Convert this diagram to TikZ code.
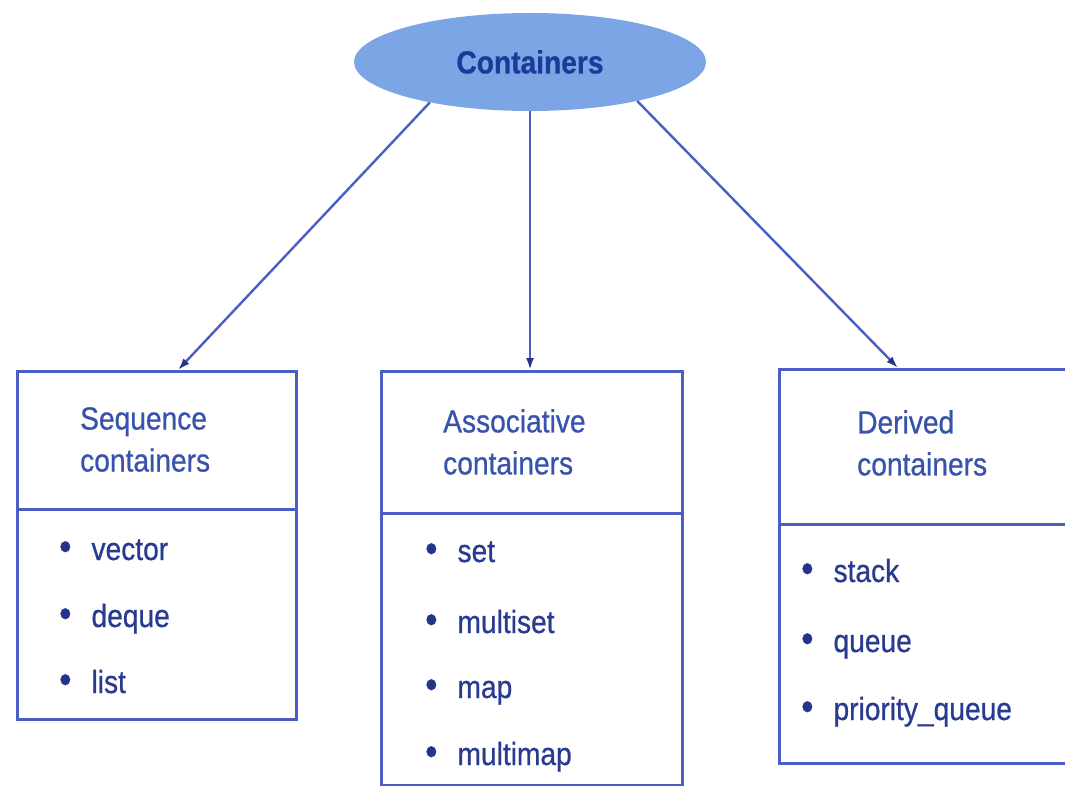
\documentclass[tikz,border=0pt]{standalone}
\usepackage{fontspec}
\setmainfont{Liberation Sans}[FakeStretch=0.88,FakeBold=0.7]
\usetikzlibrary{shapes.geometric,arrows.meta}
\definecolor{boxline}{HTML}{4A5EC6}
\definecolor{headtxt}{HTML}{3853AC}
\definecolor{itemtxt}{HTML}{293B90}
\definecolor{elfill}{HTML}{7CA5E6}
\definecolor{contxt}{HTML}{1C3A9A}
\definecolor{tipcol}{HTML}{26338A}
\newcommand{\itm}[1]{{\fontsize{40pt}{40pt}\selectfont\color{tipcol}\textbullet}\hspace{20pt}#1}
\tikzset{
  boxpart/.style={draw=boxline, line width=2.8pt, rectangle, anchor=north west, inner sep=0pt},
  headtext/.style={anchor=north west, inner sep=0pt, align=left, text=headtxt, font=\fontsize{32pt}{42pt}\selectfont},
  itemtext/.style={anchor=base west, inner sep=0pt, text=itemtxt, font=\fontsize{32pt}{38pt}\selectfont},
  arr/.style={draw=boxline, line width=2.4pt, -{Latex[length=12pt,width=8pt,color=tipcol]}},
}
\begin{document}
\begin{tikzpicture}[x=1pt,y=-1pt]
\useasboundingbox (0,0) rectangle (1065,786);
% root
\node[ellipse, fill=elfill, minimum width=352pt, minimum height=98pt, inner sep=0pt,
      text=contxt, font=\fontsize{32pt}{38pt}\selectfont\bfseries] (cont) at (530,62) {Containers};
% left box
\node[boxpart, minimum width=279pt, minimum height=138pt] (seqh) at (16,370) {};
\node[boxpart, minimum width=279pt, minimum height=210pt] (seqb) at (16,508) {};
\node[headtext] (seqt) at (80,407) {Sequence\\containers};
\node[itemtext] (s1) at (59,560) {\itm{vector}};
\node[itemtext] (s2) at (59,627) {\itm{deque}};
\node[itemtext] (s3) at (59,693) {\itm{list}};
% middle box
\node[boxpart, minimum width=301pt, minimum height=142pt] (assh) at (380,370) {};
\node[boxpart, minimum width=301pt, minimum height=272pt] (assb) at (380,512) {};
\node[headtext] (asst) at (443,409) {Associative\\containers};
\node[itemtext] (a1) at (425,562) {\itm{set}};
\node[itemtext] (a2) at (425,633) {\itm{multiset}};
\node[itemtext] (a3) at (425,698) {\itm{map}};
\node[itemtext] (a4) at (425,765) {\itm{multimap}};
% right box
\node[boxpart, minimum width=300pt, minimum height=155pt] (derh) at (778,368) {};
\node[boxpart, minimum width=300pt, minimum height=239pt] (derb) at (778,523) {};
\node[headtext] (dert) at (857,410) {Derived\\containers};
\node[itemtext] (d1) at (801,582) {\itm{stack}};
\node[itemtext] (d2) at (801,652) {\itm{queue}};
\node[itemtext] (d3) at (801,720) {\itm{priority\_queue}};
% arrow targets
\coordinate (seqin) at (178,370);
\coordinate (assin) at (530,370);
\coordinate (derin) at (898,368);
\draw[arr] (cont.202) -- (seqin);
\draw[arr] (cont.south) -- (assin);
\draw[arr] (cont.340) -- (derin);
\end{tikzpicture}
\end{document}
